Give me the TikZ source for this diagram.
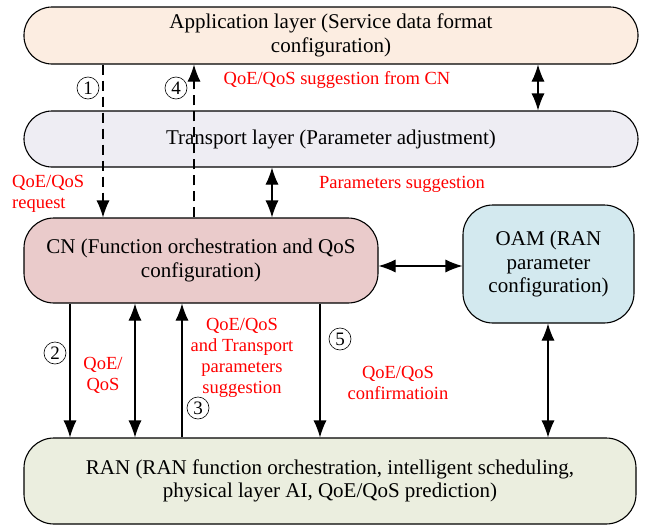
\documentclass[tikz,border=0pt]{standalone}
\usepackage{fontspec}
\setmainfont{Liberation Serif}
\usetikzlibrary{arrows.meta}
\definecolor{appfill}{RGB}{252,237,225}
\definecolor{transfill}{RGB}{238,237,243}
\definecolor{cnfill}{RGB}{234,203,203}
\definecolor{oamfill}{RGB}{211,233,239}
\definecolor{ranfill}{RGB}{235,238,223}

\begin{document}
\begin{tikzpicture}[x=1pt,y=-1pt,>={Latex[length=17pt,width=13pt]},
	layer/.style={draw,line width=1.1pt,rounded corners=28pt,align=center,font=\fontsize{21}{23.5}\selectfont,inner sep=0pt},
	note/.style={text=red,align=center,font=\fontsize{18.5}{21}\selectfont,inner sep=0pt},
	num/.style={circle,draw,line width=0.6pt,minimum size=22pt,inner sep=0pt,font=\fontsize{19}{19}\selectfont},
	link/.style={line width=1.1pt}]
	\useasboundingbox (0,0) rectangle (646,525);
	% layers
	\node[layer,fill=appfill,minimum width=614pt,minimum height=57pt] (app) at (331,35.5) {Application layer (Service data format\\configuration)};
	\node[layer,fill=transfill,minimum width=614pt,minimum height=56pt] (trans) at (331,139) {Transport layer (Parameter adjustment)};
	\node[layer,fill=cnfill,minimum width=354pt,minimum height=85pt,rounded corners=30pt] (cn) at (201,260.5) {CN (Function orchestration and QoS\\configuration)};
	\node[layer,fill=oamfill,minimum width=171pt,minimum height=118pt,rounded corners=30pt] (oam) at (548.5,264) {OAM (RAN\\parameter\\configuration)};
	\node[layer,fill=ranfill,minimum width=612pt,minimum height=86pt,rounded corners=30pt] (ran) at (330,481) {RAN (RAN function orchestration, intelligent scheduling,\\physical layer AI, QoE/QoS prediction)};
	% connectors
	\draw[link,dashed,dash pattern=on 10pt off 6pt,->] (app.south -| 103,0) -- (cn.north -| 103,0);
	\draw[link,dashed,dash pattern=on 10pt off 6pt,->] (cn.north -| 194,0) -- (app.south -| 194,0);
	\draw[link,<->] (app.south -| 538,0) -- (trans.north -| 538,0);
	\draw[link,<->] (trans.south -| 272,0) -- (cn.north -| 272,0);
	\draw[link,<->] (cn.east |- 0,266) -- (oam.west |- 0,266);
	\draw[link,->] (cn.south -| 70,0) -- (ran.north -| 70,0);
	\draw[link,<->] (cn.south -| 135,0) -- (ran.north -| 135,0);
	\draw[link,->] (ran.north -| 182,0) -- (cn.south -| 182,0);
	\draw[link,->] (cn.south -| 320,0) -- (ran.north -| 320,0);
	\draw[link,<->] (oam.south -| 548,0) -- (ran.north -| 548,0);
	% labels
	\node[num] (n1) at (88,88) {1};
	\node[num] (n4) at (176,88) {4};
	\node[num] (n2) at (55,353) {2};
	\node[num] (n3) at (198,408) {3};
	\node[num] (n5) at (340,339) {5};
	\node[note] (sugcn) at (337,80) {QoE/QoS suggestion from CN};
	\node[note,align=left,anchor=west] (req) at (12,194) {QoE/QoS\\request};
	\node[note] (parsug) at (402,184) {Parameters suggestion};
	\node[note] (qos) at (103,375) {QoE/\\QoS};
	\node[note] (transsug) at (242,358) {QoE/QoS\\and Transport\\parameters\\suggestion};
	\node[note] (confirm) at (398,383) {QoE/QoS\\confirmatioin};
\end{tikzpicture}
\end{document}
